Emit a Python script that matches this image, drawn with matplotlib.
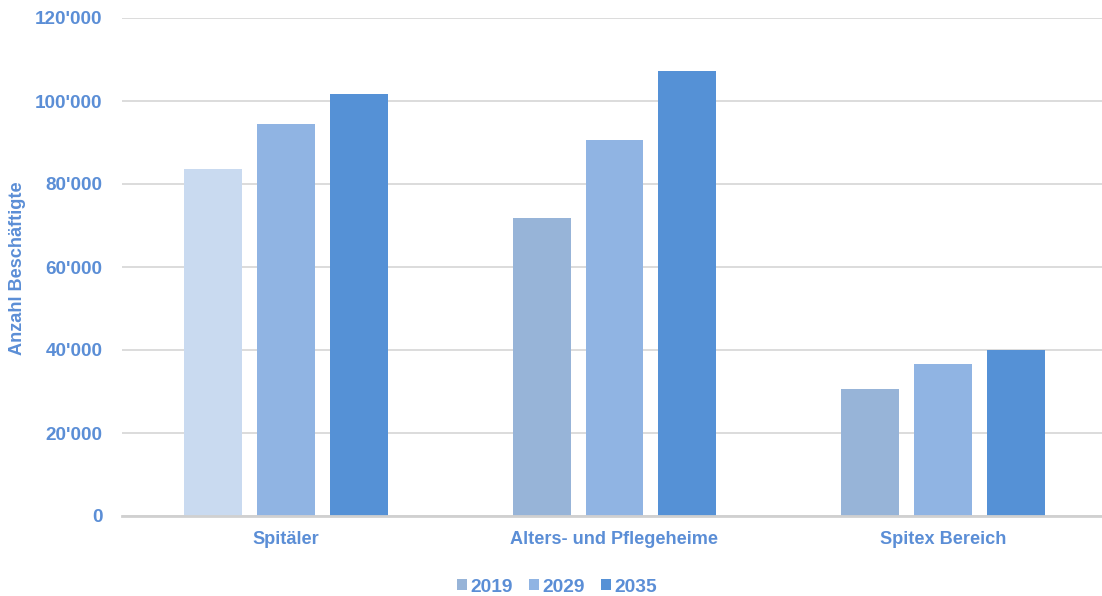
import numpy as np
import matplotlib.pyplot as plt
from matplotlib.ticker import FuncFormatter
from matplotlib.patches import Patch

# Beschäftigte im Gesundheitswesen nach Bereich
bereiche = ["Spitäler", "Alters- und Pflegeheime", "Spitex Bereich"]
jahre = ["2019", "2029", "2035"]
werte_2019 = [83700, 71900, 30700]
werte_2029 = [94500, 90600, 36600]
werte_2035 = [101800, 107300, 40100]

farben = ["#97B4D8", "#90B4E3", "#5591D6"]
farbe_spital_2019 = "#C9DAF0"
textfarbe = "#5B8ED6"

plt.rcParams["font.family"] = ["Liberation Sans", "DejaVu Sans"]
plt.rcParams["font.weight"] = "bold"

fig = plt.figure(figsize=(11.02, 5.96), dpi=100)
ax = fig.add_axes([122 / 1102, 80 / 596, 985 / 1102, 498 / 596])

x = np.arange(len(bereiche))
breite = 0.176
abstand = 0.222
serien = [werte_2019, werte_2029, werte_2035]
for i, (werte, farbe) in enumerate(zip(serien, farben)):
    balken = ax.bar(x + (i - 1) * abstand, werte, width=breite, color=farbe, zorder=3)
    if i == 0:
        balken[0].set_facecolor(farbe_spital_2019)

ax.set_xlim(-0.5, 2.5)
ax.set_ylim(0, 120000)
ax.set_yticks(np.arange(0, 120001, 20000))
ax.yaxis.set_major_formatter(FuncFormatter(lambda v, p: f"{int(v):,}".replace(",", "'")))
ax.set_xticks(x)
ax.set_xticklabels(bereiche)

ax.grid(axis="y", color="#D9D9D9", linewidth=1.3, zorder=0)
for s in ["top", "right", "left"]:
    ax.spines[s].set_visible(False)
ax.spines["bottom"].set_color("#D0D0D0")
ax.spines["bottom"].set_linewidth(2)
ax.spines["bottom"].set_zorder(4)

ax.tick_params(axis="both", length=0, labelcolor=textfarbe)
ax.tick_params(axis="y", pad=14, labelsize=13.6)
ax.tick_params(axis="x", pad=11, labelsize=13.1)

fig.text(18 / 1102, 1 - 268 / 596, "Anzahl Beschäftigte", rotation=90, ha="center",
         va="center", color=textfarbe, fontsize=13.1, fontweight="bold")

handles = [Patch(facecolor=f, edgecolor="none") for f in farben]
fig.legend(handles, jahre, loc="center", bbox_to_anchor=(557 / 1102, 1 - 587 / 596),
           ncol=3, frameon=False, fontsize=13.8, labelcolor=textfarbe,
           handlelength=0.52, handleheight=0.52, handletextpad=0.15, columnspacing=0.88)

fig.savefig("out.png", dpi=100, facecolor="white")
